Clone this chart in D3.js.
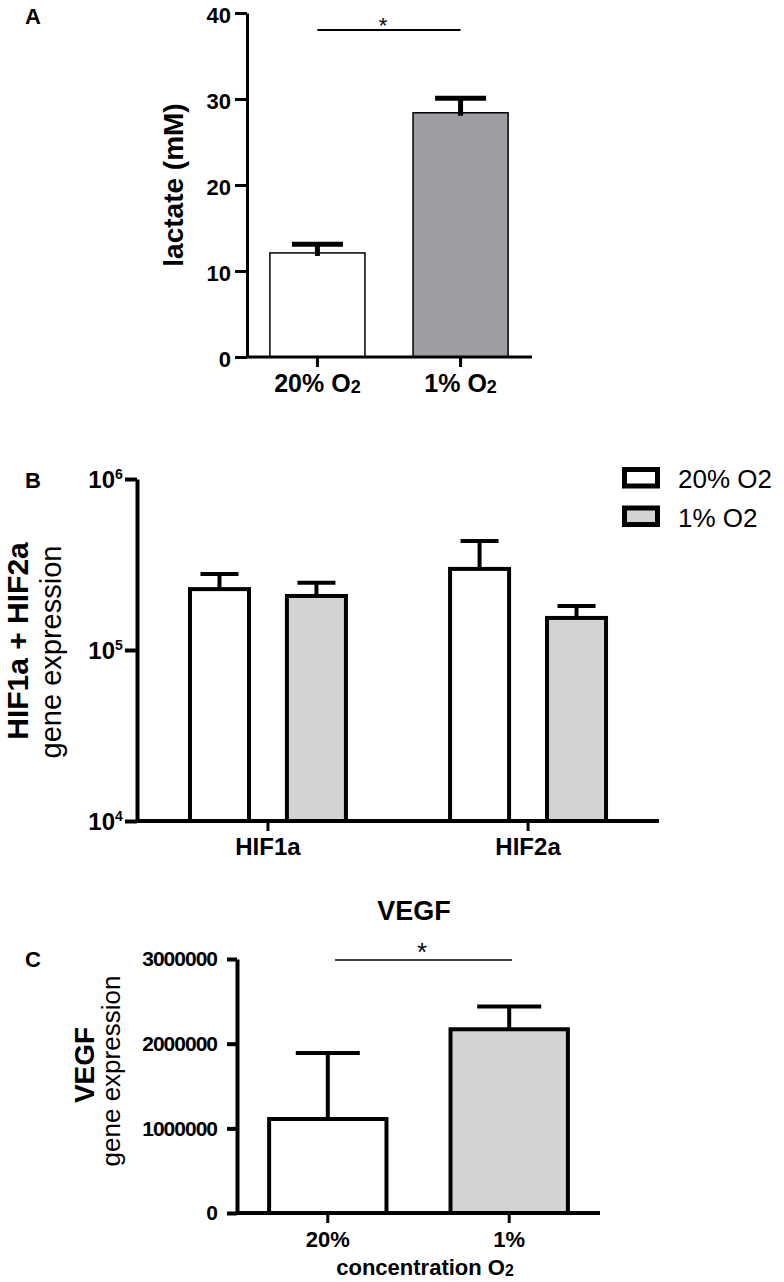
<!DOCTYPE html>
<html><head><meta charset="utf-8">
<script src="https://cdn.jsdelivr.net/npm/d3@7"></script>
<style>
body{margin:0;background:#fff;}
svg{display:block;font-family:"Liberation Sans",Arial,sans-serif;}
</style></head>
<body>
<svg id="chart" width="784" height="1282"></svg>
<script>
// ---------- DATA ----------
// Panel A: lactate
const lactateCats = ["20% O2", "1% O2"];
const lactateMean = [12.1, 28.4];
const lactateUpper = [13.1, 30.1];
const lactateTicks = [0, 10, 20, 30, 40];

// Panel B: HIF gene expression (log scale)
const hifGenes = ["HIF1a", "HIF2a"];
const hifSeries = ["20% O2", "1% O2"];
const hif20Mean = [2.27e5, 2.98e5];
const hif20Upper = [2.78e5, 4.34e5];
const hif1Mean = [2.07e5, 1.54e5];
const hif1Upper = [2.47e5, 1.81e5];
const hifTicks = [1e4, 1e5, 1e6];

// Panel C: VEGF
const vegfCats = ["20%", "1%"];
const vegfMean = [1.11e6, 2.17e6];
const vegfUpper = [1.89e6, 2.44e6];
const vegfTicks = [0, 1000000, 2000000, 3000000];

const svg = d3.select("#chart");

// helper: write label with subscript "2" after "O"
function subLabel(sel, txt, size) {
  sel.text(null);
  const m = txt.match(/^(.*O)2(.*)$/);
  if (m) {
    sel.append("tspan").text(m[1]);
    sel.append("tspan").attr("font-size", size * 0.72).attr("dy", 1).text("2");
    if (m[2]) sel.append("tspan").attr("dy", -1).text(m[2]);
  } else sel.text(txt);
}

// ================= PANEL A =================
{
  const g = svg.append("g");
  const x = d3.scaleBand().domain(lactateCats).range([247, 531]).paddingInner(0.336).paddingOuter(0.16);
  const y = d3.scaleLinear().domain([0, 40]).range([357, 13]);
  const fills = ["#ffffff", "#9e9ea2"];

  g.selectAll("rect.bar").data(lactateMean).join("rect")
    .attr("x", (d, i) => x(lactateCats[i]))
    .attr("y", d => y(d))
    .attr("width", x.bandwidth())
    .attr("height", d => y(0) - y(d))
    .attr("fill", (d, i) => fills[i])
    .attr("stroke", "#000").attr("stroke-width", 1.5);
  const cw = 51;
  lactateMean.forEach((m, i) => {
    const cx = x(lactateCats[i]) + x.bandwidth() / 2;
    g.append("line").attr("x1", cx).attr("x2", cx).attr("y1", y(m) + 3).attr("y2", y(lactateUpper[i]))
      .attr("stroke", "#000").attr("stroke-width", 5);
    g.append("line").attr("x1", cx - cw / 2).attr("x2", cx + cw / 2).attr("y1", y(lactateUpper[i])).attr("y2", y(lactateUpper[i]))
      .attr("stroke", "#000").attr("stroke-width", 5);
  });

  const ya = g.append("g").attr("transform", "translate(247,0)")
    .call(d3.axisLeft(y).tickValues(lactateTicks).tickSize(12).tickSizeOuter(0).tickPadding(4));
  ya.select(".domain").attr("stroke-width", 3);
  ya.selectAll(".tick line").attr("stroke-width", 3);
  ya.selectAll("text").attr("font-size", 22).attr("font-weight", "bold").attr("fill", "#000").attr("dy", "0.45em");

  const xa = g.append("g").attr("transform", "translate(0,357)")
    .call(d3.axisBottom(x).tickSize(10).tickSizeOuter(0));
  xa.select(".domain").attr("d", "M247,0H532").attr("stroke-width", 3);
  xa.selectAll(".tick line").attr("stroke-width", 3);
  xa.selectAll("text").attr("font-size", 25).attr("font-weight", "bold").attr("fill", "#000")
    .attr("dy", null).attr("y", 35)
    .each(function(d) { subLabel(d3.select(this), d, 25); });

  const sx1 = x(lactateCats[0]) + x.bandwidth() / 2, sx2 = x(lactateCats[1]) + x.bandwidth() / 2;
  g.append("line").attr("x1", sx1).attr("x2", sx2).attr("y1", 30).attr("y2", 30).attr("stroke", "#000").attr("stroke-width", 2);
  g.append("text").attr("x", 383).attr("y", 33).attr("text-anchor", "middle").attr("font-size", 22).text("*");

  g.append("text").attr("transform", "translate(183,185) rotate(-90)").attr("text-anchor", "middle")
    .attr("font-size", 28).attr("font-weight", "bold").text("lactate (mM)");
  g.append("text").attr("x", 25).attr("y", 24).attr("font-size", 22).attr("font-weight", "bold").text("A");
}

// ================= PANEL B =================
{
  const g = svg.append("g");
  const x0 = d3.scaleBand().domain(hifGenes).range([137, 659]).paddingInner(0.385).paddingOuter(0.196);
  const x1 = d3.scaleBand().domain(hifSeries).range([0, x0.bandwidth()]).paddingInner(0.35);
  const y = d3.scaleLog().domain([1e4, 1e6]).range([821, 479]);
  const fills = ["#ffffff", "#d3d3d3"];
  const means = [hif20Mean, hif1Mean];
  const uppers = [hif20Upper, hif1Upper];
  const sw = 4;

  hifSeries.forEach((s, si) => {
    hifGenes.forEach((gname, gi) => {
      const bx = x0(gname) + x1(s);
      const m = means[si][gi], u = uppers[si][gi];
      const cx = bx + x1.bandwidth() / 2;
      g.append("line").attr("x1", cx).attr("x2", cx).attr("y1", y(m)).attr("y2", y(u))
        .attr("stroke", "#000").attr("stroke-width", sw);
      g.append("line").attr("x1", cx - 19).attr("x2", cx + 19).attr("y1", y(u)).attr("y2", y(u))
        .attr("stroke", "#000").attr("stroke-width", sw);
      g.append("rect").attr("x", bx + sw / 2).attr("y", y(m))
        .attr("width", x1.bandwidth() - sw).attr("height", y(1e4) - y(m))
        .attr("fill", fills[si]).attr("stroke", "#000").attr("stroke-width", sw);
    });
  });

  const ya = g.append("g").attr("transform", "translate(137,0)")
    .call(d3.axisLeft(y).tickValues(hifTicks).tickSize(12).tickSizeOuter(0).tickFormat(""));
  ya.select(".domain").attr("stroke-width", sw);
  ya.selectAll(".tick line").attr("stroke-width", sw);
  ya.selectAll(".tick").each(function(d) {
    d3.select(this).select("text").attr("font-size", 24).attr("font-weight", "bold").attr("fill", "#000")
      .attr("x", -22).attr("dy", null).attr("y", 8).attr("text-anchor", "end").text("10");
    d3.select(this).append("text").attr("x", -22).attr("y", -1).attr("font-size", 14).attr("font-weight", "bold")
      .attr("fill", "#000").attr("text-anchor", "start").text(Math.round(Math.log10(d)));
  });

  const xa = g.append("g").attr("transform", "translate(0,821)")
    .call(d3.axisBottom(x0).tickSize(10).tickSizeOuter(0));
  xa.select(".domain").attr("d", "M137,0H659").attr("stroke-width", sw);
  xa.selectAll(".tick line").attr("stroke-width", 3);
  xa.selectAll("text").attr("font-size", 24).attr("font-weight", "bold").attr("fill", "#000")
    .attr("dy", null).attr("y", 34);

  const leg = g.append("g");
  hifSeries.forEach((s, i) => {
    const ly = 467 + i * 38.5;
    leg.append("rect").attr("x", 624.5).attr("y", ly + 2.5).attr("width", 33).attr("height", 16.5)
      .attr("fill", fills[i]).attr("stroke", "#000").attr("stroke-width", 5);
    leg.append("text").attr("x", 678).attr("y", ly + 21).attr("font-size", 26).attr("fill", "#000").text(s);
  });

  g.append("text").attr("transform", "translate(28,641) rotate(-90)").attr("text-anchor", "middle")
    .attr("font-size", 30).attr("font-weight", "bold").text("HIF1a + HIF2a");
  g.append("text").attr("transform", "translate(61,652) rotate(-90)").attr("text-anchor", "middle")
    .attr("font-size", 29).text("gene expression");
  g.append("text").attr("x", 25).attr("y", 488).attr("font-size", 22).attr("font-weight", "bold").text("B");
}

// ================= PANEL C =================
{
  const g = svg.append("g");
  const x = d3.scaleBand().domain(vegfCats).range([237, 600]).paddingInner(0.331).paddingOuter(0.166);
  const y = d3.scaleLinear().domain([0, 3000000]).range([1213, 959]);
  const fills = ["#ffffff", "#d3d3d3"];
  const sw = 4;

  vegfMean.forEach((m, i) => {
    const bx = x(vegfCats[i]);
    const cx = bx + x.bandwidth() / 2;
    const u = vegfUpper[i];
    g.append("line").attr("x1", cx).attr("x2", cx).attr("y1", y(m)).attr("y2", y(u))
      .attr("stroke", "#000").attr("stroke-width", sw);
    g.append("line").attr("x1", cx - 32).attr("x2", cx + 32).attr("y1", y(u)).attr("y2", y(u))
      .attr("stroke", "#000").attr("stroke-width", sw);
    g.append("rect").attr("x", bx + sw / 2).attr("y", y(m))
      .attr("width", x.bandwidth() - sw).attr("height", y(0) - y(m))
      .attr("fill", fills[i]).attr("stroke", "#000").attr("stroke-width", sw);
  });

  const ya = g.append("g").attr("transform", "translate(237,0)")
    .call(d3.axisLeft(y).tickValues(vegfTicks).tickSize(10).tickSizeOuter(0).tickPadding(10).tickFormat(d3.format("d")));
  ya.select(".domain").attr("stroke-width", sw);
  ya.selectAll(".tick line").attr("stroke-width", sw);
  ya.selectAll("text").attr("font-size", 21).attr("font-weight", "bold").attr("fill", "#000").attr("letter-spacing", -1);

  const xa = g.append("g").attr("transform", "translate(0,1213)")
    .call(d3.axisBottom(x).tickSize(10).tickSizeOuter(0));
  xa.select(".domain").attr("d", "M237,0H600").attr("stroke-width", sw);
  xa.selectAll(".tick line").attr("stroke-width", 3);
  xa.selectAll("text").attr("font-size", 22).attr("font-weight", "bold").attr("fill", "#000")
    .attr("dy", null).attr("y", 34);

  const xt = g.append("text").attr("x", 425).attr("y", 1275).attr("text-anchor", "middle")
    .attr("font-size", 22).attr("font-weight", "bold");
  subLabel(xt, "concentration O2", 22);

  g.append("text").attr("x", 414).attr("y", 920).attr("text-anchor", "middle")
    .attr("font-size", 27).attr("font-weight", "bold").text("VEGF");

  g.append("line").attr("x1", 335).attr("x2", 512).attr("y1", 960).attr("y2", 960).attr("stroke", "#000").attr("stroke-width", 1.5);
  g.append("text").attr("x", 422).attr("y", 961).attr("text-anchor", "middle").attr("font-size", 26).text("*");

  g.append("text").attr("transform", "translate(94,1065) rotate(-90)").attr("text-anchor", "middle")
    .attr("font-size", 28).attr("font-weight", "bold").text("VEGF");
  g.append("text").attr("transform", "translate(120,1071) rotate(-90)").attr("text-anchor", "middle")
    .attr("font-size", 26).text("gene expression");
  g.append("text").attr("x", 25).attr("y", 967).attr("font-size", 22).attr("font-weight", "bold").text("C");
}
</script>
</body></html>
